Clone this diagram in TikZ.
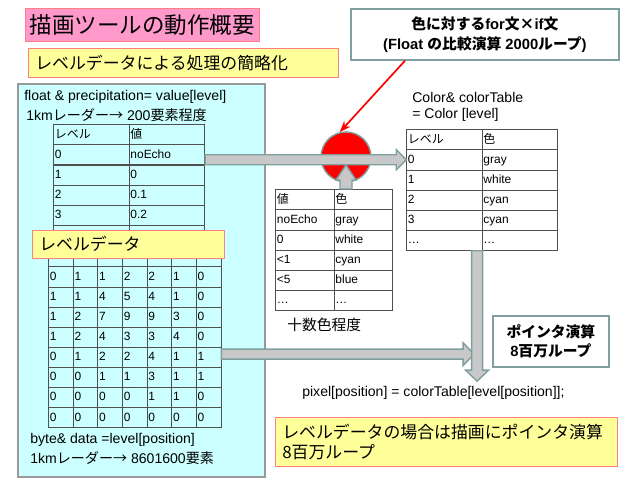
\documentclass[tikz,border=0pt]{standalone}
\usepackage{fontspec}
\setmainfont{Liberation Sans}
\newfontfamily\jp{Noto Sans CJK JP}
\usetikzlibrary{matrix,positioning,calc,arrows.meta}
\definecolor{panelcyan}{HTML}{CCFFFF}
\definecolor{notepink}{HTML}{FF99CC}
\definecolor{noteyellow}{HTML}{FFFF99}
\definecolor{noteedge}{HTML}{FF8080}
\definecolor{boxedge}{HTML}{7F9F9F}
\definecolor{tabline}{HTML}{505050}
\definecolor{arrowgray}{HTML}{C8C8C8}

\begin{document}
\begin{tikzpicture}[x=0.025cm, y=-0.025cm,
  every node/.style={font=\fontsize{10}{13}\selectfont},
  plain/.style={inner sep=0pt, anchor=west},
  note/.style={draw=noteedge, fill=noteyellow, anchor=north west, inner xsep=0.175cm, inner ysep=0pt, align=left, font=\fontsize{12}{14.5}\selectfont\jp},
  boldbox/.style={draw=boxedge, fill=white, line width=1.2pt, align=center, anchor=north west, font=\fontsize{10.5}{14}\selectfont\bfseries},
  tab/.style 2 args={matrix of nodes, nodes in empty cells, anchor=north west, inner sep=0pt,
    column sep=-\pgflinewidth, row sep=-\pgflinewidth,
    nodes={draw=tabline, anchor=center, inner sep=1pt, text width=#1, text height=7pt, text depth=2pt,
      minimum height=#2, align=left, font=\fontsize{8.5}{10}\selectfont}},
  fat/.style={draw=boxedge, fill=arrowgray, line width=1pt},
]
  \useasboundingbox (0,0) rectangle (640,480);

  % Titles
  \node[draw=noteedge, fill=notepink, anchor=north west, minimum width=5.625cm, minimum height=0.825cm,
    font=\fontsize{16}{18}\selectfont\jp] (title) at (25,8) {描画ツールの動作概要};
  \node[note, text width=7.4cm, minimum height=0.725cm] (sub) at (28,48) {レベルデータによる処理の簡略化};

  % Level data panel
  \node[draw=gray!80, fill=panelcyan, line width=1.2pt, anchor=north west, inner sep=0pt,
    minimum width=6.175cm, minimum height=9.825cm] (panel) at (17,83) {};
  \node[plain] (prec) at (24,97) {float \& precipitation= value[level]};
  \node[plain] (prec2) at (26,115) {1km{\jp レーダー→} 200{\jp 要素程度}};

  \matrix[tab={51.7pt}{14.3pt}] (lvtab) at (53,124) {
    {\jp レベル} & {\jp 値} \\
    0 & noEcho \\
    1 & 0 \\
    2 & 0.1 \\
    3 & 0.2 \\
      & \\
  };

  \matrix[tab={15.5pt}{14.3pt}] (grid) at (48,246) {
      & & & & & & \\
    0 & 1 & 1 & 2 & 2 & 1 & 0 \\
    1 & 1 & 4 & 5 & 4 & 1 & 0 \\
    1 & 2 & 7 & 9 & 9 & 3 & 0 \\
    1 & 2 & 4 & 3 & 3 & 4 & 0 \\
    0 & 1 & 2 & 2 & 4 & 1 & 1 \\
    0 & 0 & 1 & 1 & 3 & 1 & 1 \\
    0 & 0 & 0 & 0 & 1 & 1 & 0 \\
    0 & 0 & 0 & 0 & 0 & 0 & 0 \\
  };
  \node[note, text width=4.45cm, minimum height=0.7cm] (lvlabel) at (32,230) {レベルデータ};

  \node[plain] (byte) at (30,440) {byte\& data =level[position]};
  \node[plain] (byte2) at (30,458) {1km{\jp レーダー→} 8601600{\jp 要素}};

  % Colour tables
  \node[plain] (ctext) at (412,97) {Color\& colorTable};
  \node[plain] (ctext2) at (412,115) {= Color [level]};

  \matrix[tab={51.7pt}{14.3pt}] (ctab) at (406,129) {
    {\jp レベル} & {\jp 色} \\
    0 & gray \\
    1 & white \\
    2 & cyan \\
    3 & cyan \\
    … & … \\
  };

  \matrix[tab={39.6pt}{14.3pt}] (vtab) at (275,189) {
    {\jp 値} & {\jp 色} \\
    noEcho & gray \\
    0 & white \\
    <1 & cyan \\
    <5 & blue \\
    … & … \\
  };
  \node[plain, font=\fontsize{10.5}{13}\selectfont\jp] (ncol) at (287,325) {十数色程度};

  % Comparison loop
  \node[boldbox, minimum width=6.7cm, minimum height=1.275cm] (topbox) at (350,8)
    {{\jp 色に対する}for{\jp 文×}if{\jp 文}\\(Float {\jp の比較演算} 2000{\jp ループ})};
  \node[circle, draw=boxedge, fill=red, line width=1pt, minimum size=1.25cm] (circ) at (346,157) {};

  % Fat arrows
  \coordinate (a1t) at (ctab-2-1.west);
  \coordinate (a1s) at (lvtab.east |- a1t);
  \draw[fat] ($(a1s)+(0,-5)$) -- ($(a1t)+(-10,-5)$) -- ($(a1t)+(-10,-10)$) -- (a1t)
    -- ($(a1t)+(-10,10)$) -- ($(a1t)+(-10,5)$) -- ($(a1s)+(0,5)$) -- cycle;

  \coordinate (a2s) at (circ |- vtab.north);
  \coordinate (a2t) at ($(circ)+(0,8)$);
  \draw[fat] ($(a2s)+(-6,0)$) -- ($(a2t)+(-6,15)$) -- ($(a2t)+(-10,15)$) -- (a2t)
    -- ($(a2t)+(10,15)$) -- ($(a2t)+(6,15)$) -- ($(a2s)+(6,0)$) -- cycle;

  \node[plain] (code) at (302,393) {pixel[position] = colorTable[level[position]];};

  \coordinate (a3s) at ($(ctab.south)+(-5,0)$);
  \coordinate (a3t) at ($(a3s |- code.north)+(0,-5)$);
  \coordinate (a4t) at ($(a3s |- grid-6-7.east)+(-3,-3)$);
  \coordinate (a4s) at (grid.east |- a4t);
  \draw[fat] ($(a4s)+(0,-5)$) -- ($(a4t)+(-11,-5)$) -- ($(a4t)+(-11,-11.5)$) -- (a4t)
    -- ($(a4t)+(-11,11.5)$) -- ($(a4t)+(-11,5)$) -- ($(a4s)+(0,5)$) -- cycle;
  \draw[fat] ($(a3s)+(-5.5,0)$) -- ($(a3t)+(-5.5,-11)$) -- ($(a3t)+(-11.5,-11)$) -- (a3t)
    -- ($(a3t)+(11.5,-11)$) -- ($(a3t)+(5.5,-11)$) -- ($(a3s)+(5.5,0)$) -- cycle;

  \draw[red, line width=1.2pt, -{Stealth[length=8pt,width=6pt]}] ($(topbox.south west)+(55,0)$) -- (circ.104);

  % Pointer loop
  \node[boldbox, minimum width=2.9cm, minimum height=1.275cm] (ptr) at (492,315)
    {{\jp ポインタ演算}\\8{\jp 百万ループ}};
  \node[note, text width=8.2cm, minimum height=1.225cm] (result) at (275,417)
    {レベルデータの場合は描画にポインタ演算\\8百万ループ};
\end{tikzpicture}
\end{document}
